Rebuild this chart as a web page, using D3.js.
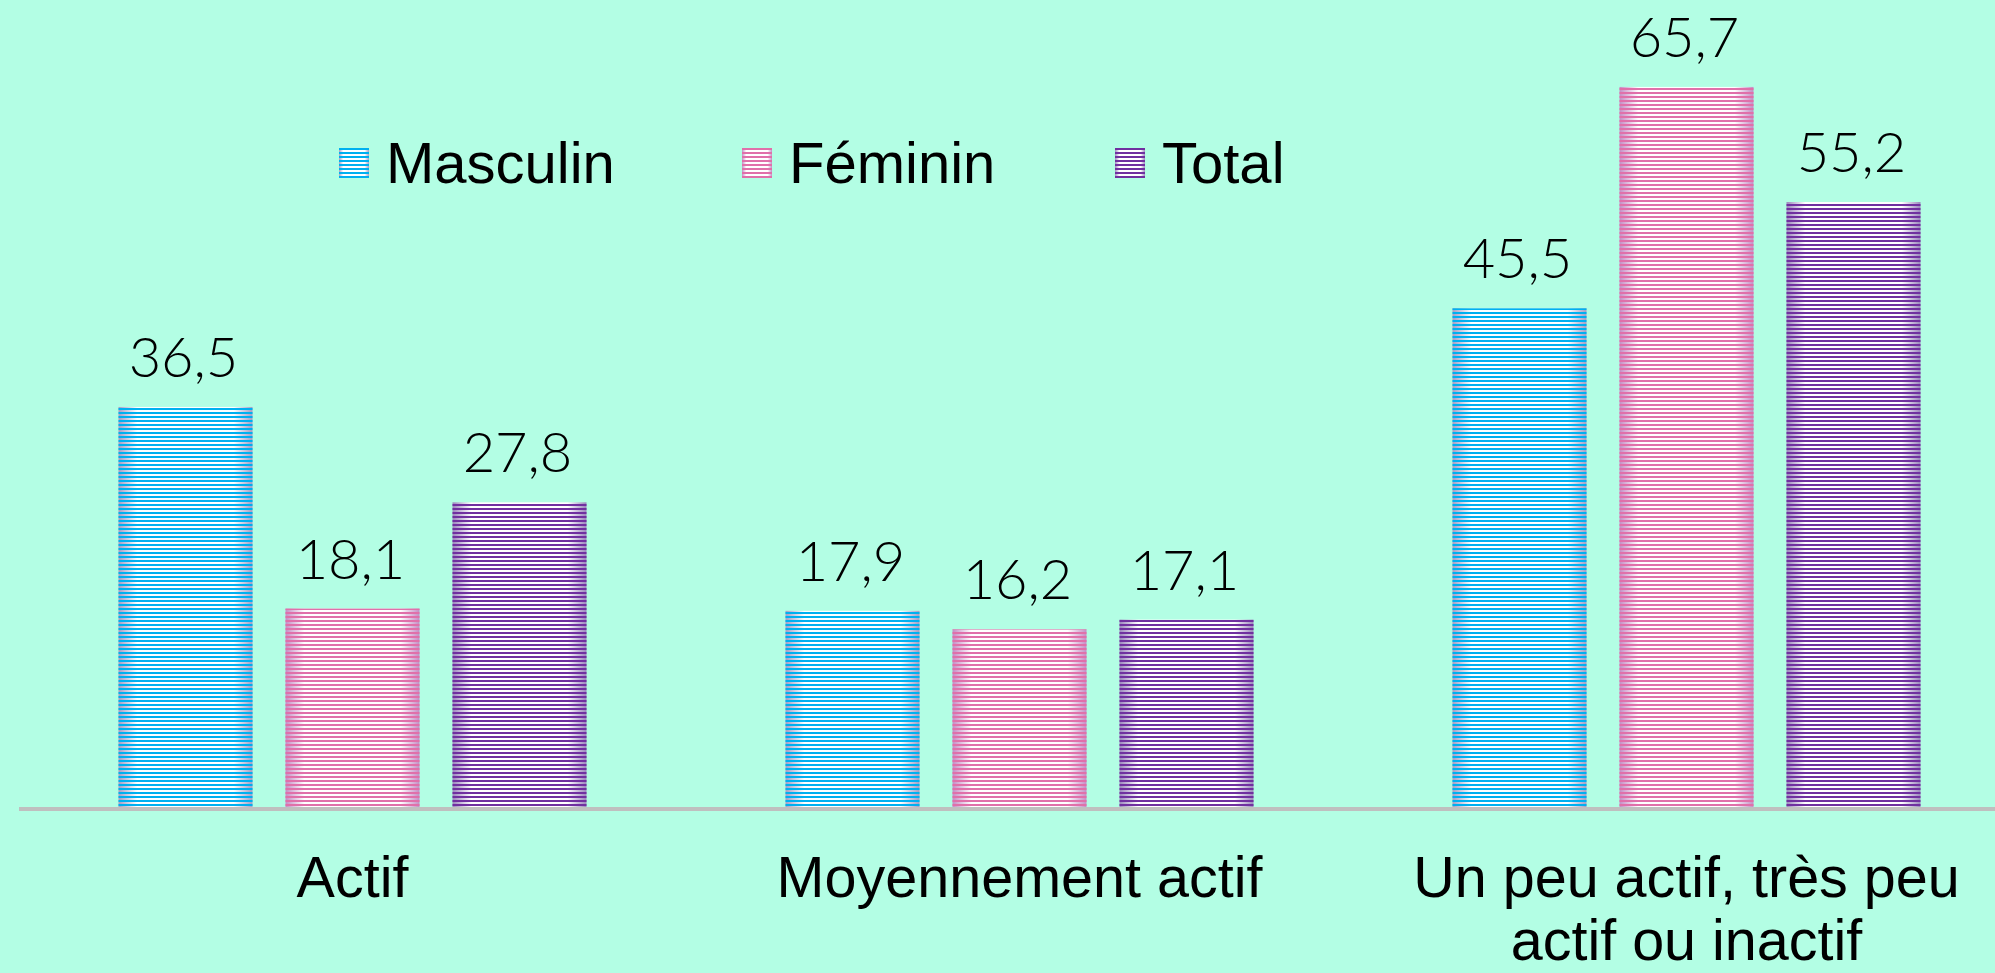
<!DOCTYPE html>
<html>
<head>
<meta charset="utf-8">
<script src="https://cdn.jsdelivr.net/npm/d3@7"></script>
<style>
  html, body { margin: 0; padding: 0; background: #b3fee4; overflow: hidden; }
  svg { display: block; }
  .sans { font-family: "Liberation Sans", Arial, Helvetica, Arimo, "Nimbus Sans", sans-serif; }
  .num { font-family: Lato, "Open Sans", sans-serif; }
</style>
</head>
<body>
<svg id="chart" width="1995" height="973"></svg>
<script>
// ---- Data ----
const categories = [["Actif"], ["Moyennement actif"], ["Un peu actif, très peu", "actif ou inactif"]];
const seriesNames = ["Masculin", "Féminin", "Total"];
const masculin = [36.5, 17.9, 45.5];
const feminin = [18.1, 16.2, 65.7];
const total = [27.8, 17.1, 55.2];
const seriesValues = [masculin, feminin, total];
const seriesColors = ["#00b0f0", "#e070aa", "#7030a0"];
const seriesEdges = ["#a49cc4", "#c48cc4", "#9a86bc"];

const W = 1995, H = 973;
const svg = d3.select("#chart");
const defs = svg.append("defs");

seriesNames.forEach((s, i) => {
  const g = defs.append("linearGradient").attr("id", "grad" + i)
    .attr("x1", "0").attr("x2", "1").attr("y1", "0").attr("y2", "0");
  g.append("stop").attr("offset", "0%").attr("stop-color", seriesEdges[i]);
  g.append("stop").attr("offset", "14%").attr("stop-color", "#ffffff");
  g.append("stop").attr("offset", "86%").attr("stop-color", "#ffffff");
  g.append("stop").attr("offset", "100%").attr("stop-color", seriesEdges[i]);
  const p = defs.append("pattern").attr("id", "stripe" + i)
    .attr("patternUnits", "userSpaceOnUse").attr("width", 10).attr("height", 4);
  p.append("rect").attr("x", 0).attr("y", 0).attr("width", 10).attr("height", 2)
    .attr("fill", seriesColors[i]);
});

const y0 = 807;
const x = d3.scaleBand().domain(d3.range(categories.length)).range([19, 2020]).paddingInner(0).paddingOuter(0);
const xInner = d3.scaleBand().domain(d3.range(seriesNames.length))
  .range([99.5, x.bandwidth() - 99.5]).paddingInner(33 / 167).paddingOuter(0);
const y = d3.scaleLinear().domain([0, 70]).range([y0, y0 - 70 * 10.96]);

seriesNames.forEach((s, si) => {
  const grp = svg.append("g");
  seriesValues[si].forEach((v, ci) => {
    const bx = x(ci) + xInner(si), bw = xInner.bandwidth();
    const by = y(v), bh = y(0) - y(v);
    grp.append("rect").attr("x", bx).attr("y", by).attr("width", bw).attr("height", bh)
      .attr("fill", "url(#grad" + si + ")");
    grp.append("rect").attr("x", bx).attr("y", by).attr("width", bw).attr("height", bh)
      .attr("fill", "url(#stripe" + si + ")");
    grp.append("text").attr("class", "num").attr("x", bx + bw / 2 - 2).attr("y", by - 30)
      .attr("text-anchor", "middle").attr("font-size", 56).attr("font-weight", 300)
      .attr("fill", "#000").text(String(v).replace(".", ","));
  });
});

svg.append("line").attr("x1", 19).attr("x2", W).attr("y1", y0 + 2).attr("y2", y0 + 2)
  .attr("stroke", "#bfbfbf").attr("stroke-width", 4);

categories.forEach((lines, ci) => {
  const cx = x(ci) + x.bandwidth() / 2;
  lines.forEach((t, li) => {
    svg.append("text").attr("class", "sans").attr("x", cx).attr("y", 897 + li * 63)
      .attr("text-anchor", "middle").attr("font-size", 57.5)
      .attr("fill", "#000").text(t);
  });
});

const legendX = [339, 742, 1115];
seriesNames.forEach((s, si) => {
  const lx = legendX[si];
  svg.append("rect").attr("x", lx).attr("y", 148).attr("width", 30).attr("height", 30)
    .attr("fill", "url(#grad" + si + ")");
  svg.append("rect").attr("x", lx).attr("y", 148).attr("width", 30).attr("height", 30)
    .attr("fill", "url(#stripe" + si + ")");
  svg.append("text").attr("class", "sans").attr("x", lx + 47).attr("y", 183)
    .attr("font-size", 58).attr("fill", "#000").text(s);
});
</script>
</body>
</html>
